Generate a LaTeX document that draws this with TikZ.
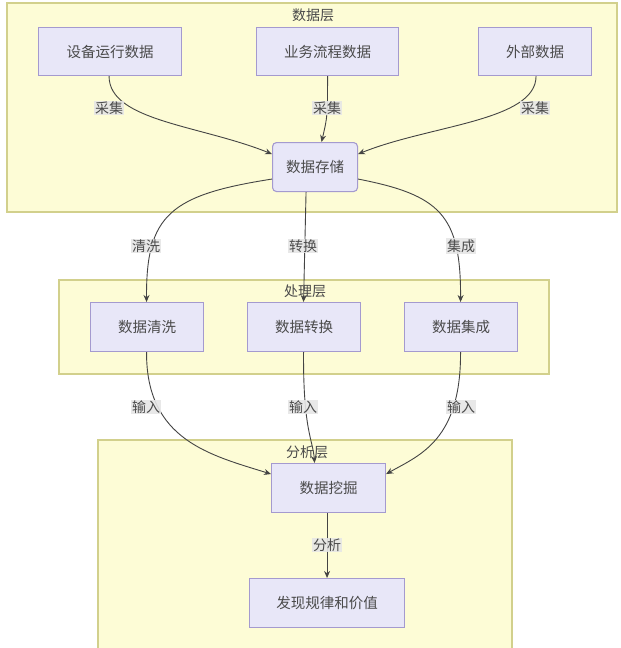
\documentclass[tikz,border=0pt]{standalone}
\usepackage{fontspec}
\setmainfont{Noto Sans CJK SC}
\usetikzlibrary{arrows.meta,calc}
\definecolor{clfill}{HTML}{FDFCD6}
\definecolor{cldraw}{HTML}{D2D08C}
\definecolor{ndfill}{HTML}{E8E7F8}
\definecolor{nddraw}{HTML}{A49ACF}
\definecolor{edgec}{HTML}{444444}
\definecolor{lblc}{HTML}{E6E6E6}
\definecolor{txtc}{HTML}{4A4A4A}
\tikzset{
  x=1pt, y=-1pt,
  cluster/.style={draw=cldraw, fill=clfill, line width=1.2pt},
  ctitle/.style={text=txtc, font=\fontsize{14}{16}\selectfont, inner sep=0pt},
  box/.style={draw=nddraw, fill=ndfill, line width=1.1pt, text=txtc,
    font=\fontsize{14.5}{16}\selectfont, inner sep=0pt, anchor=north west},
  elabel/.style={fill=lblc, text=txtc, font=\fontsize{14}{16}\selectfont,
    inner sep=1pt, fill opacity=0.9, text opacity=1},
  conn/.style={draw=edgec, line width=0.9pt, -{Stealth[length=7pt,width=6pt]}},
}
\begin{document}
\begin{tikzpicture}
\useasboundingbox[fill=white] (0,0) rectangle (621,648);
% clusters
\draw[cluster] (7,3) rectangle (617,212);
\node[ctitle] (t1) at (313,15) {数据层};
\draw[cluster] (59,280) rectangle (549,374);
\node[ctitle] (t2) at (305,291) {处理层};
\draw[cluster] (98,440) rectangle (512,652);
\node[ctitle] (t3) at (307,452) {分析层};
% nodes
\node[box, minimum width=143pt, minimum height=48pt] (a1) at (38,27) {设备运行数据};
\node[box, minimum width=142pt, minimum height=48pt] (a2) at (256,27) {业务流程数据};
\node[box, minimum width=113pt, minimum height=48pt] (a3) at (478,27) {外部数据};
\node[box, rounded corners=4pt, minimum width=85pt, minimum height=49pt] (s) at (272,142) {数据存储};
\node[box, minimum width=113pt, minimum height=49pt] (p1) at (90,302) {数据清洗};
\node[box, minimum width=113pt, minimum height=49pt] (p2) at (247,302) {数据转换};
\node[box, minimum width=113pt, minimum height=49pt] (p3) at (404,302) {数据集成};
\node[box, minimum width=114pt, minimum height=49pt] (m) at (271,463) {数据挖掘};
\node[box, minimum width=155pt, minimum height=49pt] (r) at (249,578) {发现规律和价值};
% edges: collect
\draw[conn] ($(a1.south)+(-1,0)$) .. controls ($(a1.south)+(-1,45)$) and (200,125) .. ($(s.west)+(0,-13)$);
\node[elabel] (l1) at (109,108) {采集};
\draw[conn] (a2.south) .. controls ($(a2.south)+(0,40)$) .. ($(s.north)+(6.5,0)$);
\node[elabel] (l2) at (327,108) {采集};
\draw[conn] ($(a3.south)+(1,0)$) .. controls ($(a3.south)+(1,45)$) and (430,125) .. ($(s.east)+(0,-13)$);
\node[elabel] (l3) at (535,108) {采集};
% edges: process
\draw[conn] ($(s.west)+(0,12)$) .. controls (170,195) and (146,215) .. ($(p1.north)+(-0.5,0)$);
\node[elabel] (l4) at (146,246) {清洗};
\draw[conn] ($(s.south)+(-9,0)$) -- ($(p2.north)+(-0.5,0)$);
\node[elabel] (l5) at (303,246) {转换};
\draw[conn] ($(s.east)+(0,12)$) .. controls (440,195) and (461,215) .. ($(p3.north)+(-0.5,0)$);
\node[elabel] (l6) at (461,246) {集成};
% edges: input
\draw[conn] ($(p1.south)+(-0.5,0)$) .. controls (146,440) and (210,455) .. ($(m.west)+(0,-14)$);
\node[elabel] (l7) at (146,407) {输入};
\draw[conn] ($(p2.south)+(-0.5,0)$) .. controls (303,430) and (313,440) .. ($(m.north)+(-14,0)$);
\node[elabel] (l8) at (303,407) {输入};
\draw[conn] ($(p3.south)+(-0.5,0)$) .. controls (461,440) and (420,455) .. ($(m.east)+(0,-14)$);
\node[elabel] (l9) at (461,407) {输入};
% analysis
\draw[conn] ($(m.south)+(-1.5,0)$) -- (r.north);
\node[elabel] (l10) at (327,545) {分析};
\end{tikzpicture}
\end{document}
